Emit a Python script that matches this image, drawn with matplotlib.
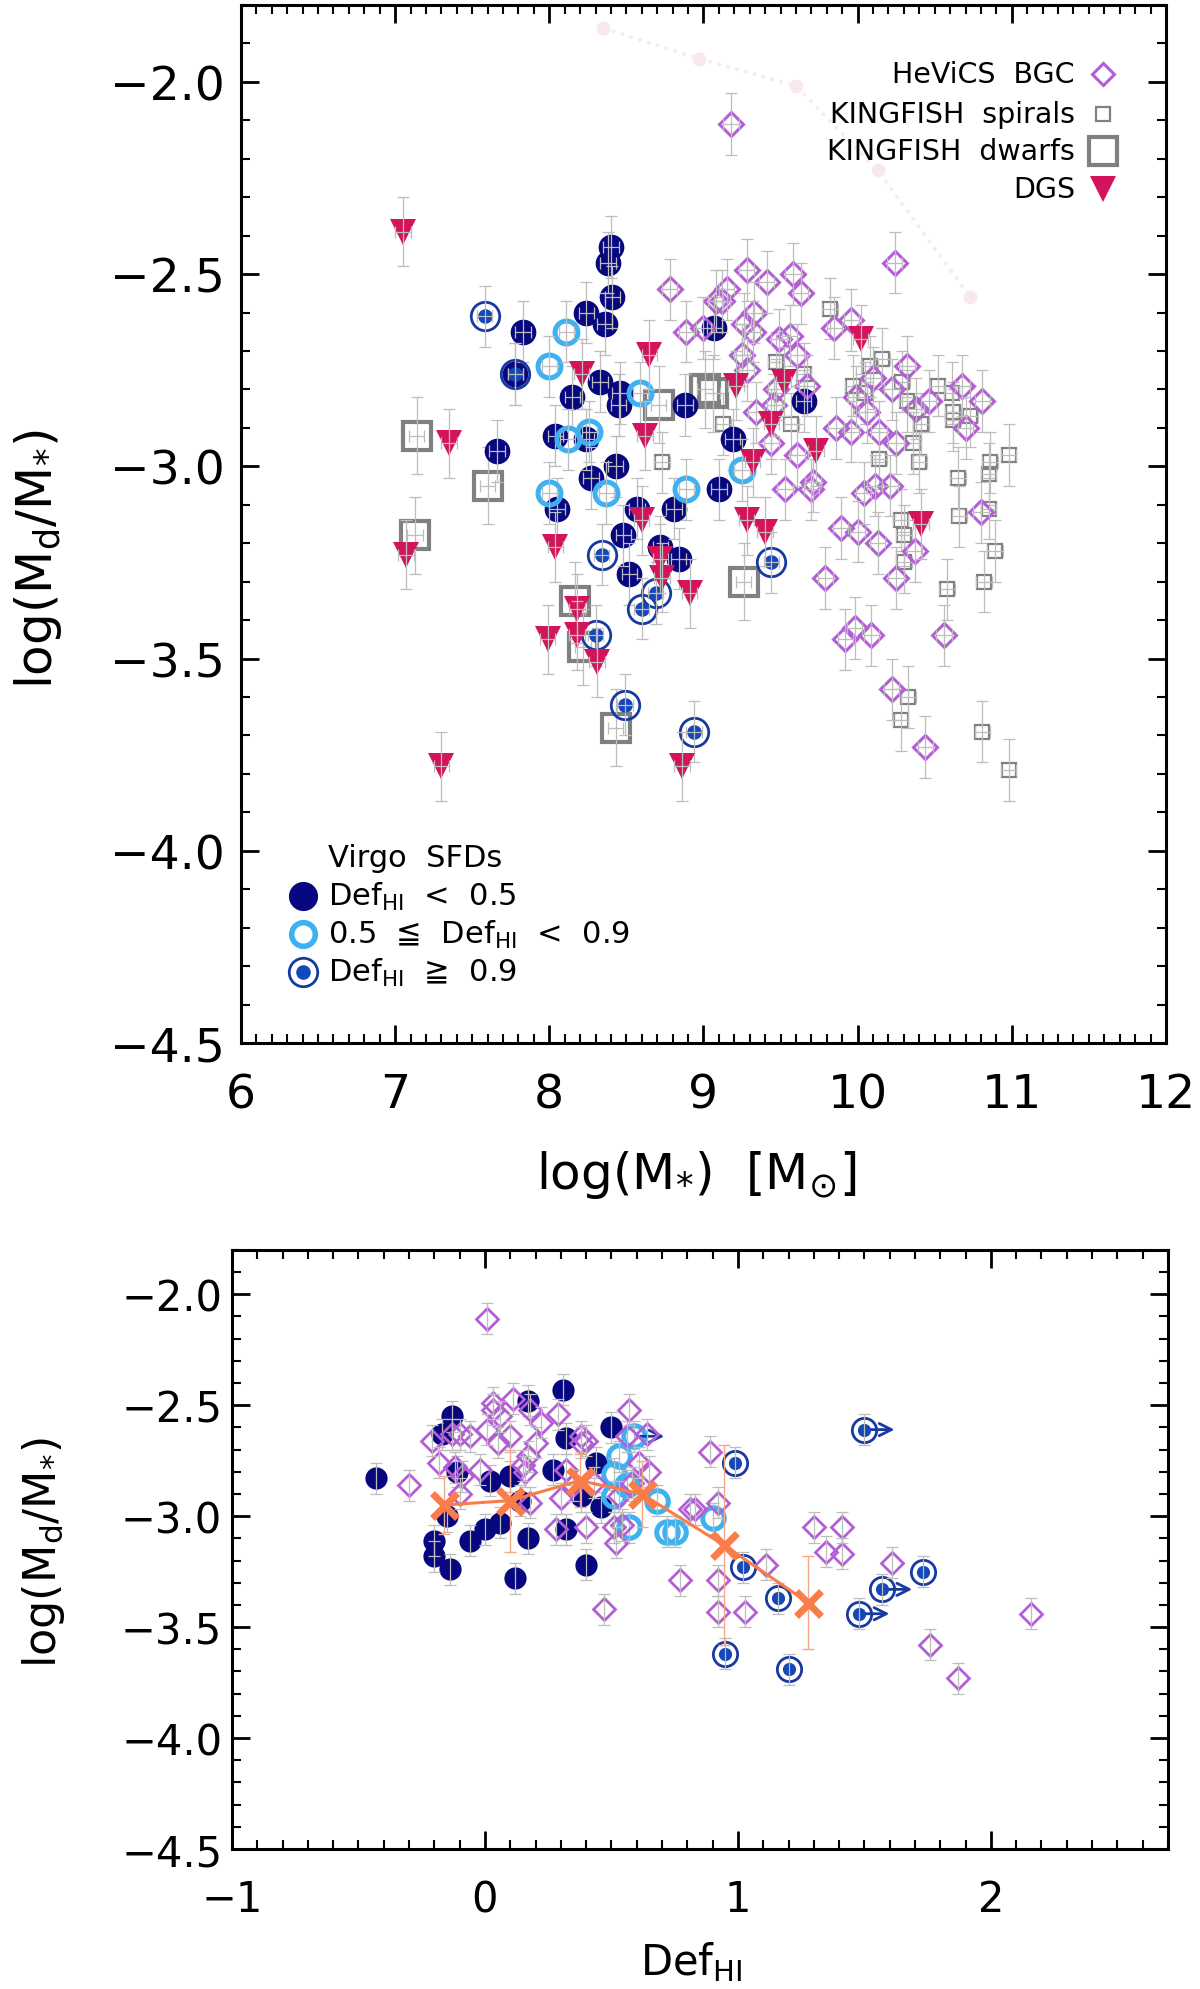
import matplotlib
matplotlib.use("Agg")
import matplotlib.pyplot as plt
from matplotlib.ticker import MultipleLocator, FuncFormatter

plt.rcParams['font.family'] = ['DejaVu Sans']
plt.rcParams['mathtext.fontset'] = 'dejavusans'
plt.rcParams['mathtext.default'] = 'regular'

# ---------------- top panel: log(M*) vs log(Md/M*) ----------------
# Virgo SFDs, Def_HI < 0.5
sfd_lo_x = [8.40, 8.38, 8.41, 8.24, 8.36, 7.83, 7.78, 8.33, 8.15, 8.46, 8.45, 8.88, 9.07, 7.66,
            8.04, 8.24, 8.43, 8.27, 8.05, 8.57, 8.81, 8.48, 8.72, 8.84, 8.52, 9.10, 9.65, 9.19]
sfd_lo_y = [-2.43, -2.47, -2.56, -2.60, -2.63, -2.65, -2.76, -2.78, -2.82, -2.81, -2.84, -2.84, -2.64, -2.96,
            -2.92, -2.93, -3.00, -3.03, -3.11, -3.11, -3.11, -3.18, -3.21, -3.24, -3.28, -3.06, -2.83, -2.93]
# 0.5 <= Def_HI < 0.9
sfd_mid_x = [8.11, 8.00, 8.59, 8.12, 8.26, 8.00, 8.37, 8.89, 9.25]
sfd_mid_y = [-2.65, -2.74, -2.81, -2.93, -2.91, -3.07, -3.07, -3.06, -3.01]
# Def_HI >= 0.9
sfd_hi_x = [7.58, 7.78, 8.34, 8.69, 8.60, 8.30, 9.44, 8.49, 8.94]
sfd_hi_y = [-2.61, -2.76, -3.23, -3.33, -3.37, -3.44, -3.25, -3.62, -3.69]

kf_dwarf_x = [7.14, 7.60, 7.13, 8.71, 9.01, 9.06, 8.17, 8.22, 9.26, 8.43]
kf_dwarf_y = [-2.92, -3.05, -3.18, -2.84, -2.80, -2.81, -3.35, -3.47, -3.30, -3.68]

kf_spiral_x = [8.73, 9.13, 9.82, 9.47, 9.65, 10.08, 10.16, 9.97, 10.05, 10.29, 10.32, 10.52, 10.61,
               10.62, 10.62, 10.73, 10.41, 9.57, 10.36, 10.14, 10.40, 10.98, 10.86, 10.85, 10.65,
               10.66, 10.85, 10.28, 10.30, 10.30, 10.89, 10.58, 10.82, 10.33, 10.28, 10.81, 10.98]
kf_spiral_y = [-2.99, -2.89, -2.59, -2.73, -2.76, -2.74, -2.72, -2.79, -2.81, -2.78, -2.83, -2.79, -2.81,
               -2.86, -2.88, -2.87, -2.89, -2.89, -2.94, -2.98, -2.99, -2.97, -2.99, -3.02, -3.03,
               -3.13, -3.11, -3.14, -3.18, -3.25, -3.22, -3.32, -3.30, -3.60, -3.66, -3.69, -3.79]

hev_x = [9.18, 10.24, 8.78, 8.89, 9.00, 9.08, 9.28, 9.41, 9.58, 9.63, 9.15, 9.12, 9.33, 9.26, 9.32,
         9.49, 9.56, 9.61, 9.25, 9.28, 9.47, 9.67, 9.85, 9.96, 9.34, 9.46, 9.44, 9.61, 9.53, 9.71,
         9.70, 9.86, 9.96, 10.06, 10.14, 10.25, 10.10, 9.99, 10.22, 10.32, 10.38, 10.46, 10.68,
         10.81, 10.70, 10.04, 10.11, 10.21, 9.89, 10.00, 10.13, 10.37, 10.80, 9.79, 10.25, 9.92,
         9.98, 10.09, 10.56, 10.22, 10.44]
hev_y = [-2.11, -2.47, -2.54, -2.65, -2.64, -2.57, -2.49, -2.52, -2.50, -2.55, -2.54, -2.57, -2.60,
         -2.63, -2.65, -2.67, -2.66, -2.71, -2.71, -2.75, -2.80, -2.79, -2.64, -2.62, -2.86, -2.84,
         -2.94, -2.97, -3.06, -3.04, -3.06, -2.90, -2.91, -2.86, -2.91, -2.94, -2.77, -2.82, -2.80,
         -2.74, -2.85, -2.83, -2.79, -2.83, -2.90, -3.07, -3.05, -3.05, -3.16, -3.17, -3.20, -3.22,
         -3.12, -3.29, -3.29, -3.45, -3.42, -3.44, -3.44, -3.58, -3.73]

dgs_x = [7.05, 8.65, 8.21, 8.62, 7.35, 8.60, 8.04, 7.07, 8.72, 8.73, 8.91, 8.18, 7.99, 8.18, 8.31,
         7.30, 8.86, 10.02, 9.21, 9.52, 9.44, 9.73, 9.32, 9.28, 9.40, 10.41]
dgs_y = [-2.39, -2.71, -2.76, -2.92, -2.94, -3.14, -3.21, -3.23, -3.24, -3.29, -3.33, -3.37, -3.45,
         -3.44, -3.51, -3.78, -3.78, -2.67, -2.79, -2.78, -2.89, -2.96, -2.99, -3.14, -3.17, -3.15]

# faint track near the top
track_x = [8.35, 8.97, 9.60, 10.13, 10.73]
track_y = [-1.86, -1.94, -2.01, -2.23, -2.56]

# ---------------- bottom panel: Def_HI vs log(Md/M*) ----------------
def_lo_x = [-0.43, -0.13, -0.17, 0.17, 0.31, 0.32, 0.50, 0.44, -0.11, 0.02, 0.10, 0.27, 0.38,
            0.46, -0.15, 0.14, -0.20, -0.20, -0.14, -0.06, 0.00, 0.06, 0.17, 0.12, 0.32, 0.40]
def_lo_y = [-2.83, -2.55, -2.63, -2.48, -2.43, -2.65, -2.60, -2.76, -2.80, -2.84, -2.82, -2.79, -2.91,
            -2.96, -3.00, -2.93, -3.11, -3.18, -3.24, -3.11, -3.06, -3.03, -3.10, -3.28, -3.06, -3.22]
def_mid_x = [0.59, 0.53, 0.51, 0.51, 0.56, 0.68, 0.57, 0.72, 0.75, 0.90]
def_mid_y = [-2.64, -2.73, -2.81, -2.91, -2.86, -2.93, -3.05, -3.07, -3.07, -3.01]
def_hi_x = [0.99, 1.02, 1.16, 0.95, 1.20, 1.73, 1.50, 1.57, 1.48]
def_hi_y = [-2.76, -3.23, -3.37, -3.62, -3.69, -3.25, -2.61, -3.33, -3.44]
# lower limits on Def_HI
lim_x = [1.50, 1.57, 1.48, 0.59]
lim_y = [-2.61, -3.33, -3.44, -2.64]

def_hev_x = [0.01, -0.30, -0.21, -0.18, -0.13, -0.10, -0.06, -0.12, -0.09, -0.10, -0.02, 0.03, 0.03,
             0.06, 0.01, 0.05, 0.10, 0.11, 0.18, 0.22, 0.29, 0.20, 0.17, 0.15, 0.16, 0.18, 0.30, 0.28,
             0.38, 0.40, 0.38, 0.32, 0.35, 0.43, 0.40, 0.57, 0.64, 0.56, 0.61, 0.65, 0.58, 0.53, 0.51,
             0.52, 0.54, 0.77, 0.47, 0.81, 0.89, 0.92, 0.83, 0.92, 0.92, 1.03, 1.11, 1.30, 1.41, 1.35,
             1.41, 1.61, 1.76, 1.87, 2.16]
def_hev_y = [-2.11, -2.86, -2.66, -2.76, -2.63, -2.63, -2.64, -2.78, -2.82, -2.90, -2.79, -2.49, -2.52,
             -2.55, -2.61, -2.67, -2.64, -2.47, -2.52, -2.58, -2.54, -2.67, -2.73, -2.77, -2.80, -2.94,
             -2.92, -3.06, -2.64, -2.66, -2.67, -2.79, -2.86, -2.85, -3.05, -2.52, -2.63, -2.64, -2.76,
             -2.80, -2.85, -2.91, -3.05, -3.12, -3.04, -3.29, -3.42, -2.97, -2.71, -2.94, -2.97, -3.29,
             -3.43, -3.43, -3.22, -3.05, -3.05, -3.16, -3.17, -3.21, -3.58, -3.73, -3.44]

bin_x = [-0.16, 0.10, 0.375, 0.62, 0.944, 1.278]
bin_y = [-2.95, -2.93, -2.84, -2.90, -3.13, -3.39]
bin_err = [0.13, 0.23, 0.12, 0.15, 0.45, 0.21]

NAVY = '#07077f'
LBLUE = '#3eb1f1'
RINGC = '#1739a0'
DOTC = '#1447b8'
DGSC = '#d3145a'
PURPLE = '#b45ed6'
GREY = '#808080'
ORANGE = '#fa7c48'
ERRC = '#bdbdbd'
FAINT = '#f9e8f0'

fig = plt.figure(figsize=(12, 19.9), dpi=100)
ax1 = fig.add_axes([0.2008, 0.4754, 0.7708, 0.5216])
ax2 = fig.add_axes([0.1933, 0.0704, 0.7800, 0.3010])


def errs(ax, x, y, xe, ye, z):
    ax.errorbar(x, y, xerr=xe, yerr=ye, fmt='none', ecolor=ERRC, elinewidth=0.9,
                capsize=4, capthick=0.9, zorder=z)


def minus_fmt(fmt):
    return FuncFormatter(lambda v, p: (fmt % v).replace('-', '\u2212'))


def style(ax, size, xpad, ypad):
    for s in ax.spines.values():
        s.set_linewidth(2.2)
    ax.tick_params(which='both', direction='in', top=True, right=True, labelsize=size)
    ax.tick_params(which='major', length=13, width=2.0)
    ax.tick_params(which='minor', length=6.5, width=1.5)
    ax.tick_params(axis='x', pad=xpad)
    ax.tick_params(axis='y', pad=ypad)
    ax.xaxis.set_minor_locator(MultipleLocator(0.1))
    ax.yaxis.set_major_locator(MultipleLocator(0.5))
    ax.yaxis.set_minor_locator(MultipleLocator(0.1))
    ax.yaxis.set_major_formatter(minus_fmt('%.1f'))
    ax.xaxis.set_major_formatter(minus_fmt('%d'))


# ---- top panel ----
ax1.plot(track_x, track_y, ls=':', lw=2.5, color=FAINT, marker='o', ms=9, mfc=FAINT, mec=FAINT, zorder=1)

ax1.plot(kf_spiral_x, kf_spiral_y, ls='none', marker='s', ms=9.4, mfc='none', mec=GREY, mew=1.6, zorder=2)
errs(ax1, kf_spiral_x, kf_spiral_y, 0.05, 0.08, 2.1)
ax1.plot(kf_dwarf_x, kf_dwarf_y, ls='none', marker='s', ms=20, mfc='none', mec=GREY, mew=3.0, zorder=2.2)
errs(ax1, kf_dwarf_x, kf_dwarf_y, 0.05, 0.1, 2.3)
ax1.plot(sfd_lo_x, sfd_lo_y, ls='none', marker='o', ms=18.5, mfc=NAVY, mec=NAVY, mew=0, zorder=3)
errs(ax1, sfd_lo_x, sfd_lo_y, 0.05, 0.08, 3.1)
ax1.plot(sfd_mid_x, sfd_mid_y, ls='none', marker='o', ms=16.5, mfc='none', mec=LBLUE, mew=3.6, zorder=3.2)
errs(ax1, sfd_mid_x, sfd_mid_y, 0.05, 0.08, 3.3)
ax1.plot(sfd_hi_x, sfd_hi_y, ls='none', marker='o', ms=20.5, mfc='none', mec=RINGC, mew=2.0, zorder=3.4)
ax1.plot(sfd_hi_x, sfd_hi_y, ls='none', marker='o', ms=10.5, mfc=DOTC, mec=DOTC, mew=0, zorder=3.5)
errs(ax1, sfd_hi_x, sfd_hi_y, 0.05, 0.08, 3.6)
ax1.plot(hev_x, hev_y, ls='none', marker='D', ms=12.5, mfc='none', mec=PURPLE, mew=2.2, zorder=4)
errs(ax1, hev_x, hev_y, 0.05, 0.08, 4.1)
ax1.plot(dgs_x, dgs_y, ls='none', marker='v', ms=18.5, mfc=DGSC, mec=DGSC, mew=0, zorder=5)
errs(ax1, dgs_x, dgs_y, 0.05, 0.09, 5.1)

ax1.set_xlim(6, 12)
ax1.set_ylim(-4.5, -1.8)
ax1.xaxis.set_major_locator(MultipleLocator(1))
style(ax1, 34, 21, 11.5)

ax1.text(-0.219, 0.467, r'log(M$_{d}$/M$_{*}$)', transform=ax1.transAxes, rotation=90,
         ha='center', va='center', fontsize=36)
ax1.text(0.492, -0.126, r'log(M$_{*}$)  [M$_{\odot}$]', transform=ax1.transAxes,
         ha='center', va='center', fontsize=36)

# legend, upper right
leg_fs = 20.5
rows = [0.9335, 0.895, 0.859, 0.823]
ax1.text(0.9016, rows[0], 'HeViCS  BGC', transform=ax1.transAxes, ha='right', va='center', fontsize=leg_fs)
ax1.plot([0.932], [rows[0]], transform=ax1.transAxes, marker='D', ms=11, mfc='none', mec=PURPLE, mew=2.2)
ax1.text(0.9016, rows[1], 'KINGFISH  spirals', transform=ax1.transAxes, ha='right', va='center', fontsize=leg_fs)
ax1.plot([0.932], [rows[1]], transform=ax1.transAxes, marker='s', ms=9.4, mfc='none', mec=GREY, mew=1.6)
ax1.text(0.9016, rows[2], 'KINGFISH  dwarfs', transform=ax1.transAxes, ha='right', va='center', fontsize=leg_fs)
ax1.plot([0.932], [rows[2]], transform=ax1.transAxes, marker='s', ms=20, mfc='none', mec=GREY, mew=3.0)
ax1.text(0.9016, rows[3], 'DGS', transform=ax1.transAxes, ha='right', va='center', fontsize=leg_fs)
ax1.plot([0.932], [rows[3]], transform=ax1.transAxes, marker='v', ms=18.5, mfc=DGSC, mec=DGSC, mew=0)

# legend, lower left
lfs = 22
ax1.text(0.094, 0.179, 'Virgo  SFDs', transform=ax1.transAxes, ha='left', va='center', fontsize=lfs)
ax1.plot([0.067], [0.1416], transform=ax1.transAxes, marker='o', ms=21, mfc=NAVY, mec=NAVY, mew=0)
ax1.text(0.094, 0.1416, r'Def$_{\rm HI}$  <  0.5', transform=ax1.transAxes, ha='left', va='center', fontsize=lfs)
ax1.plot([0.067], [0.105], transform=ax1.transAxes, marker='o', ms=17, mfc='none', mec=LBLUE, mew=4)
ax1.text(0.094, 0.105, '0.5  \u2266  Def$_{\\rm HI}$  <  0.9', transform=ax1.transAxes, ha='left', va='center', fontsize=lfs)
ax1.plot([0.067], [0.0684], transform=ax1.transAxes, marker='o', ms=20.5, mfc='none', mec=RINGC, mew=2.0)
ax1.plot([0.067], [0.0684], transform=ax1.transAxes, marker='o', ms=10.5, mfc=DOTC, mec=DOTC, mew=0)
ax1.text(0.094, 0.0684, 'Def$_{\\rm HI}$  \u2267  0.9', transform=ax1.transAxes, ha='left', va='center', fontsize=lfs)

# ---- bottom panel ----
ax2.plot(def_lo_x, def_lo_y, ls='none', marker='o', ms=16, mfc=NAVY, mec=NAVY, mew=0, zorder=3)
errs(ax2, def_lo_x, def_lo_y, None, 0.07, 3.1)
ax2.plot(def_mid_x, def_mid_y, ls='none', marker='o', ms=15.5, mfc='none', mec=LBLUE, mew=3.6, zorder=3.2)
errs(ax2, def_mid_x, def_mid_y, None, 0.07, 3.3)
for lx, ly in zip(lim_x, lim_y):
    ax2.annotate('', xy=(lx + 0.13, ly), xytext=(lx, ly),
                 arrowprops=dict(arrowstyle='->', color=RINGC, lw=2.0, mutation_scale=22), zorder=3.35)
ax2.plot(def_hi_x, def_hi_y, ls='none', marker='o', ms=17.5, mfc='none', mec=RINGC, mew=2.0, zorder=3.4)
ax2.plot(def_hi_x, def_hi_y, ls='none', marker='o', ms=9.5, mfc=DOTC, mec=DOTC, mew=0, zorder=3.5)
errs(ax2, def_hi_x, def_hi_y, None, 0.07, 3.6)
ax2.plot(def_hev_x, def_hev_y, ls='none', marker='D', ms=11, mfc='none', mec=PURPLE, mew=2.0, zorder=4)
errs(ax2, def_hev_x, def_hev_y, None, 0.07, 4.1)
ax2.errorbar(bin_x, bin_y, yerr=bin_err, fmt='none', ecolor='#f6a78a', elinewidth=1.0,
             capsize=4, capthick=1.0, zorder=5)
ax2.plot(bin_x, bin_y, color=ORANGE, lw=2.2, marker='x', ms=18, mew=5, zorder=5.1)

ax2.set_xlim(-1, 2.7)
ax2.set_ylim(-4.5, -1.8)
ax2.xaxis.set_major_locator(MultipleLocator(1))
style(ax2, 30, 21, 7)

ax2.text(-0.201, 0.497, r'log(M$_{d}$/M$_{*}$)', transform=ax2.transAxes, rotation=90,
         ha='center', va='center', fontsize=32)
ax2.text(0.491, -0.187, r'Def$_{\rm HI}$', transform=ax2.transAxes,
         ha='center', va='center', fontsize=30)

fig.savefig('out.png', dpi=100)
